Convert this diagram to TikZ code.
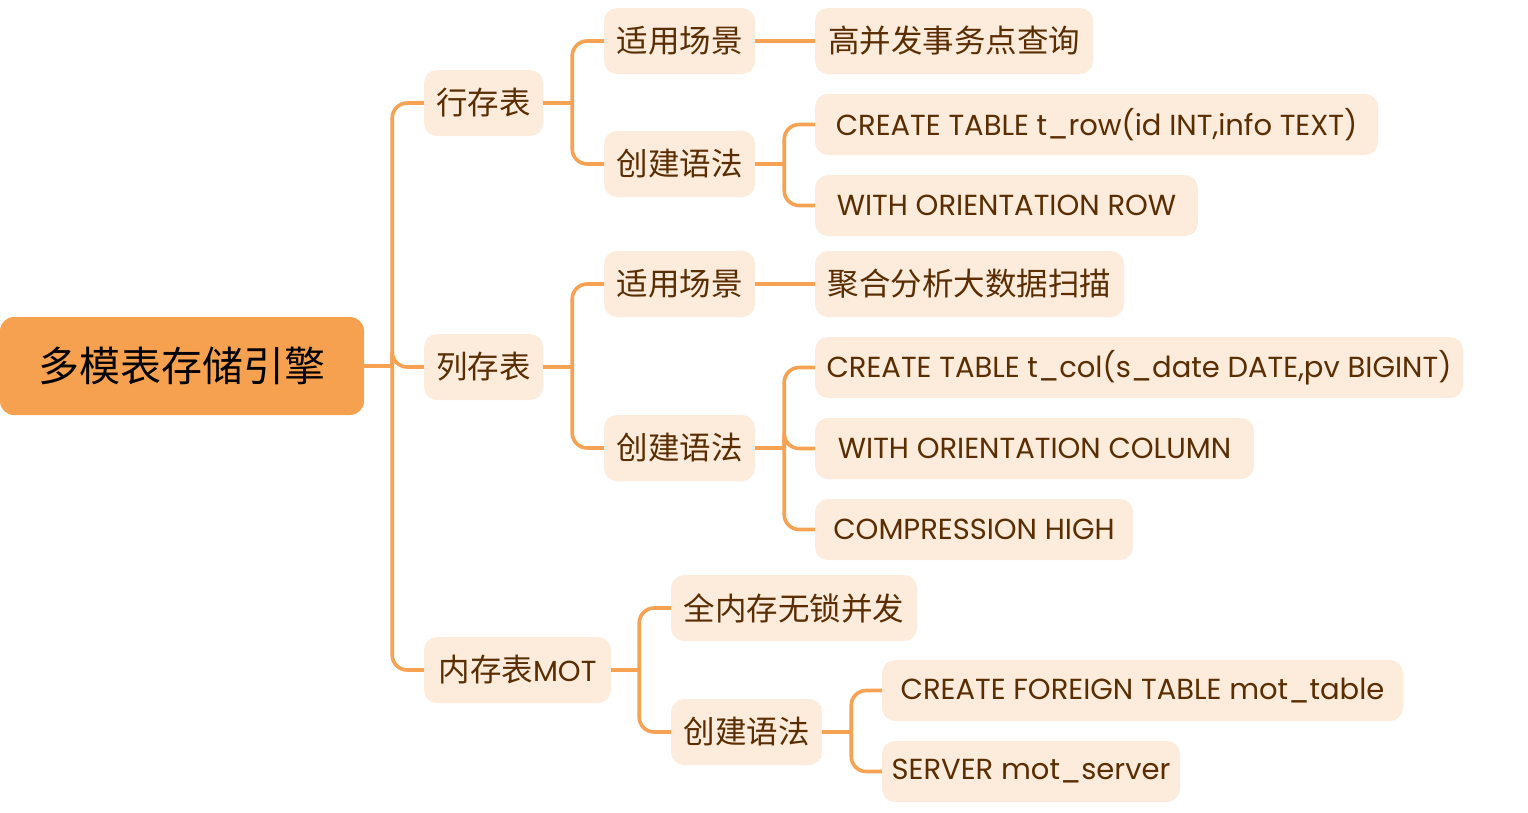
\documentclass[tikz,border=0pt]{standalone}
\usepackage{fontspec}
\setmainfont{Poppins}
\newfontfamily\cjk{Noto Sans CJK SC}
\definecolor{rootfill}{HTML}{F5A150}
\definecolor{boxfill}{HTML}{FDEBDC}
\definecolor{txt}{HTML}{5A2E02}
\definecolor{linec}{HTML}{F7A252}
\tikzset{
  rootbox/.style={fill=rootfill, rounded corners=14pt, inner sep=0pt, text=black, font=\cjk\fontsize{41}{48}\selectfont},
  box/.style={fill=boxfill, rounded corners=13pt, inner sep=0pt, text=txt, font=\cjk\fontsize{31.5}{36}\selectfont, minimum height=66pt},
  lbox/.style={fill=boxfill, rounded corners=13pt, inner sep=0pt, text=txt, font=\fontsize{29}{34}\selectfont, minimum height=61pt},
  conn/.style={draw=linec, line width=3.6pt, rounded corners=15pt},
  trunk/.style={draw=linec, line width=3.6pt}
}
\begin{document}
\begin{tikzpicture}[x=1pt,y=-1pt]
\useasboundingbox (0,0) rectangle (1528,812);
% root
\node[rootbox, minimum width=364pt, minimum height=98pt] (root) at (182,366) {多模表存储引擎};
% level 1
\node[box, minimum width=119pt] (row) at (483.5,103) {行存表};
\node[box, minimum width=119pt] (col) at (483.5,367) {列存表};
\node[box, minimum width=187pt] (mot) at (517.5,670) {内存表{\fontspec{Poppins}\fontsize{29}{34}\selectfont MOT}};
% level 2
\node[box, minimum width=151pt] (rs) at (679.5,41) {适用场景};
\node[box, minimum width=151pt] (rc) at (679.5,164) {创建语法};
\node[box, minimum width=151pt] (cs) at (679.5,284) {适用场景};
\node[box, minimum width=151pt] (cc) at (679.5,448) {创建语法};
\node[box, minimum width=246pt] (ms) at (794,608) {全内存无锁并发};
\node[box, minimum width=151pt] (mc) at (746.5,732) {创建语法};
% level 3
\node[box, minimum width=278pt] (rs1) at (954,41) {高并发事务点查询};
\node[lbox, minimum width=563pt] (rc1) at (1096.5,124.5) {CREATE TABLE t\_row(id INT,info TEXT)};
\node[lbox, minimum width=383pt] (rc2) at (1006.5,205.5) {WITH ORIENTATION ROW};
\node[box, minimum width=309pt] (cs1) at (969.5,284) {聚合分析大数据扫描};
\node[lbox, minimum width=648pt] (cc1) at (1139,367.5) {CREATE TABLE t\_col(s\_date DATE,pv BIGINT)};
\node[lbox, minimum width=439pt] (cc2) at (1034.5,448.5) {WITH ORIENTATION COLUMN};
\node[lbox, minimum width=318pt] (cc3) at (974,529.5) {COMPRESSION HIGH};
\node[lbox, minimum width=521pt] (mc1) at (1142.5,690.5) {CREATE FOREIGN TABLE mot\_table};
\node[lbox, minimum width=298pt] (mc2) at (1031,771.5) {SERVER mot\_server};
% connectors root
\draw[trunk] (root.east) -- ++(28,0);
\draw[conn] (root.east) ++(28,0) |- (row.west);
\draw[conn] (root.east) ++(28,0) |- (col.west);
\draw[conn] (root.east) ++(28,0) |- (mot.west);
% row
\draw[trunk] (row.east) -- ++(29,0);
\draw[conn] (row.east) ++(29,0) |- (rs.west);
\draw[conn] (row.east) ++(29,0) |- (rc.west);
\draw[trunk] (rs.east) -- (rs1.west);
\draw[trunk] (rc.east) -- ++(29,0);
\draw[conn] (rc.east) ++(29,0) |- (rc1.west);
\draw[conn] (rc.east) ++(29,0) |- (rc2.west);
% col
\draw[trunk] (col.east) -- ++(29,0);
\draw[conn] (col.east) ++(29,0) |- (cs.west);
\draw[conn] (col.east) ++(29,0) |- (cc.west);
\draw[trunk] (cs.east) -- (cs1.west);
\draw[trunk] (cc.east) -- ++(29,0);
\draw[conn] (cc.east) ++(29,0) |- (cc1.west);
\draw[conn] (cc.east) ++(29,0) |- (cc2.west);
\draw[conn] (cc.east) ++(29,0) |- (cc3.west);
% mot
\draw[trunk] (mot.east) -- ++(28,0);
\draw[conn] (mot.east) ++(28,0) |- (ms.west);
\draw[conn] (mot.east) ++(28,0) |- (mc.west);
\draw[trunk] (mc.east) -- ++(29,0);
\draw[conn] (mc.east) ++(29,0) |- (mc1.west);
\draw[conn] (mc.east) ++(29,0) |- (mc2.west);
\end{tikzpicture}
\end{document}
